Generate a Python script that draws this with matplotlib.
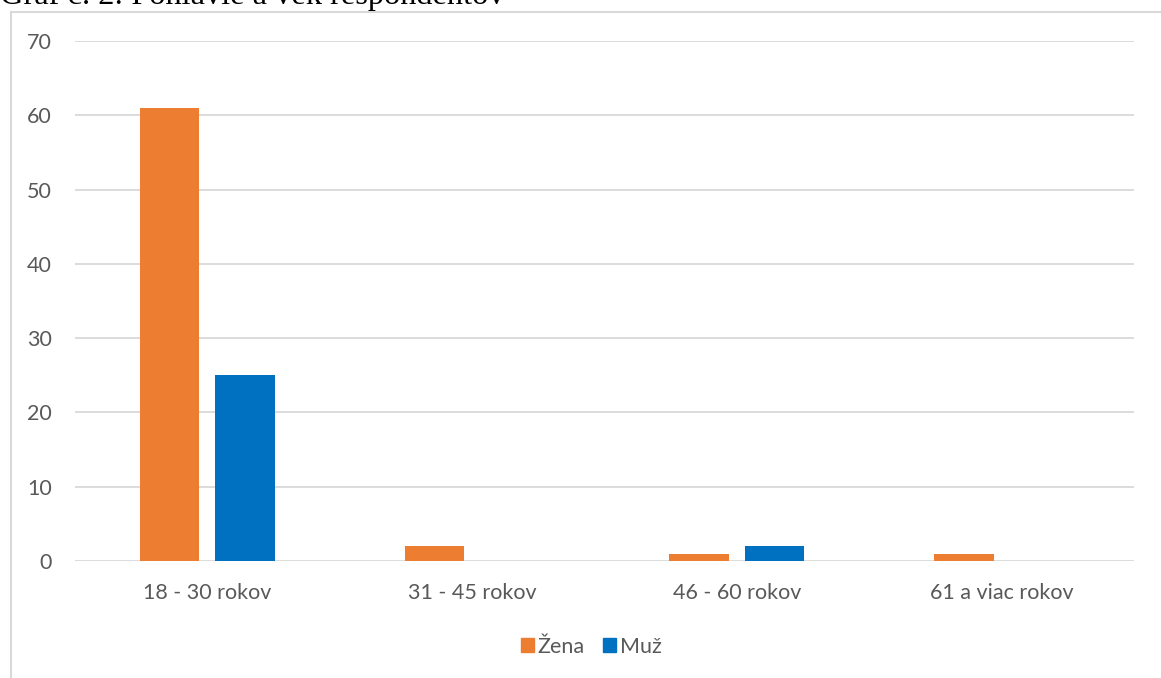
import matplotlib

matplotlib.use("Agg")
import matplotlib.pyplot as plt
from matplotlib.lines import Line2D
from matplotlib.patches import Patch
import numpy as np

categories = ["18 - 30 rokov", "31 - 45 rokov", "46 - 60 rokov", "61 a viac rokov"]
zena = [61, 2, 1, 1]
muz = [25, 0, 2, 0]
series_labels = ["Žena", "Muž"]
y_ticks = [0, 10, 20, 30, 40, 50, 60, 70]
title = "Graf č. 2: Pohlavie a vek respondentov"

W, H = 1161, 678
ORANGE = "#ED7D31"
BLUE = "#0070C0"
GRID = "#D9D9D9"
TEXT = "#595959"
FS = 15.5


def main() -> None:
    plt.rcParams["font.family"] = ["Lato", "DejaVu Sans"]
    fig = plt.figure(figsize=(W / 100, H / 100), dpi=100)
    fig.patch.set_facecolor("white")

    # plot area in pixels: x 75..1134, y 41..561
    ax = fig.add_axes([75 / W, 1 - 561 / H, (1134 - 75) / W, (561 - 41) / H])
    x = np.arange(len(categories))
    width = 0.225
    offset = 0.1425
    ax.bar(x - offset, zena, width=width, color=ORANGE, zorder=3, label=series_labels[0])
    ax.bar(x + offset, muz, width=width, color=BLUE, zorder=3, label=series_labels[1])

    ax.set_xlim(-0.5, len(categories) - 0.5)
    ax.set_ylim(0, 70)
    ax.set_yticks(y_ticks)
    ax.set_xticks(x)
    ax.set_xticklabels(categories)
    ax.grid(axis="y", color=GRID, linewidth=1.3, zorder=0)
    for s in ax.spines.values():
        s.set_visible(False)
    ax.tick_params(axis="both", length=0, labelsize=FS, colors=TEXT)
    ax.tick_params(axis="y", pad=16.5)
    ax.tick_params(axis="x", pad=16)

    handles = [Patch(color=ORANGE), Patch(color=BLUE)]
    fig.legend(
        handles,
        series_labels,
        loc="center",
        bbox_to_anchor=(591 / W, 1 - 647 / H),
        ncol=2,
        frameon=False,
        fontsize=FS,
        labelcolor=TEXT,
        handlelength=0.63,
        handleheight=0.63,
        handletextpad=0.15,
        columnspacing=0.85,
    )

    # chart frame (continues past the image on right and bottom)
    fx, fy = 11 / W, 1 - 12 / H
    fig.add_artist(Line2D([fx, fx], [fy, 0], transform=fig.transFigure, color=GRID, lw=1.5))
    fig.add_artist(Line2D([fx, 1], [fy, fy], transform=fig.transFigure, color=GRID, lw=1.5))

    # caption above the chart, mostly cut off by the top edge
    fig.text(
        0,
        1 - 4 / H,
        title,
        family="Liberation Serif",
        fontsize=23.3,
        color="black",
        ha="left",
        va="baseline",
    )

    fig.savefig("out.png", dpi=100)
    plt.close(fig)


if __name__ == "__main__":
    main()
